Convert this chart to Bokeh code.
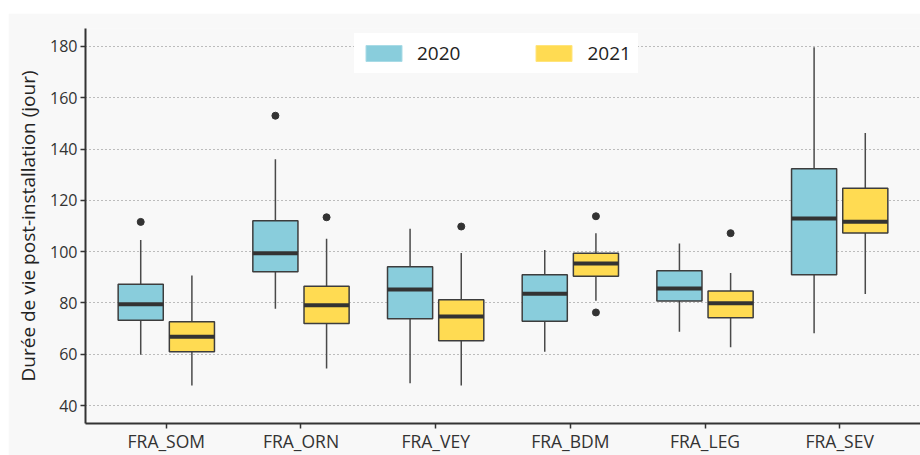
from bokeh.plotting import figure
from bokeh.models import FixedTicker, Legend, LegendItem, ColumnDataSource, Spacer
from bokeh.layouts import column, row
from bokeh.embed import file_html
from bokeh.resources import INLINE

categories = ["FRA_SOM", "FRA_ORN", "FRA_VEY", "FRA_BDM", "FRA_LEG", "FRA_SEV"]

# 2020 series
low_2020 = [59.8, 77.7, 48.7, 61.0, 68.8, 68.2]
q1_2020 = [73.3, 92.2, 73.8, 72.9, 80.8, 91.0]
med_2020 = [79.5, 99.4, 85.2, 83.6, 85.6, 112.9]
q3_2020 = [87.3, 112.0, 94.1, 91.0, 92.6, 132.3]
high_2020 = [104.5, 136.0, 108.9, 100.6, 103.2, 179.7]
out_cat_2020 = ["FRA_SOM", "FRA_ORN"]
out_val_2020 = [111.6, 153.0]

# 2021 series
low_2021 = [47.8, 54.4, 47.8, 80.9, 62.7, 83.5]
q1_2021 = [61.0, 72.0, 65.3, 90.4, 74.2, 107.3]
med_2021 = [66.8, 79.1, 74.7, 95.4, 79.9, 111.7]
q3_2021 = [72.7, 86.5, 81.2, 99.4, 84.7, 124.7]
high_2021 = [90.7, 105.0, 99.5, 107.2, 91.7, 146.3]
out_cat_2021 = ["FRA_ORN", "FRA_VEY", "FRA_BDM", "FRA_BDM", "FRA_LEG"]
out_val_2021 = [113.4, 109.8, 113.8, 76.3, 107.2]

y_ticks = [40, 60, 80, 100, 120, 140, 160, 180]

COL_2020 = "#89CDDC"
COL_2021 = "#FFDB52"
EDGE = "#3d3d3d"
BG = "#f8f8f8"
FONT = "Open Sans"

pos = {c: i + 1 for i, c in enumerate(categories)}
OFF = 0.19
BW = 0.335

p = figure(width=912, height=442, x_range=(0.4, 6.6), y_range=(33, 187),
           output_backend="svg", toolbar_location=None,
           background_fill_color=BG, border_fill_color=BG,
           min_border_left=77, min_border_right=0, min_border_top=15,
           min_border_bottom=30)
p.outline_line_color = None
p.xgrid.grid_line_color = None
p.ygrid.grid_line_color = "#808080"
p.ygrid.grid_line_dash = "1 3"
p.ygrid.grid_line_width = 1

def draw(low, q1, med, q3, high, oc, ov, off, col):
    xs = [pos[c] + off for c in categories]
    src = ColumnDataSource(dict(x=xs, low=low, q1=q1, med=med, q3=q3, high=high,
                                x0=[x - BW / 2 for x in xs], x1=[x + BW / 2 for x in xs]))
    p.segment(x0="x", x1="x", y0="low", y1="high", source=src,
              line_color="#4a4a4a", line_width=1.5)
    p.vbar(x="x", width=BW, bottom="q1", top="q3", source=src,
           fill_color=col, line_color=EDGE, line_width=1.5)
    p.segment(x0="x0", x1="x1", y0="med", y1="med", source=src,
              line_color="#333333", line_width=4)
    p.scatter([pos[c] + off for c in oc], ov, size=7, color="#333333")

draw(low_2020, q1_2020, med_2020, q3_2020, high_2020, out_cat_2020, out_val_2020, -OFF, COL_2020)
draw(low_2021, q1_2021, med_2021, q3_2021, high_2021, out_cat_2021, out_val_2021, OFF, COL_2021)

# legend-only glyphs placed outside the visible range
r20 = p.rect(x=[-100], y=[-100], width=1, height=1, fill_color=COL_2020, line_color="#a9dbe6", line_width=1)
r21 = p.rect(x=[-100], y=[-100], width=1, height=1, fill_color=COL_2021, line_color="#ffe47c", line_width=1)

legend = Legend(items=[LegendItem(label="2020", renderers=[r20]),
                       LegendItem(label="2021", renderers=[r21])],
                orientation="horizontal", location=(269, 350),
                glyph_width=45, glyph_height=20, label_standoff=11, spacing=71,
                padding=7, margin=0, background_fill_color="white",
                background_fill_alpha=1, border_line_alpha=0,
                label_text_font=FONT, label_text_font_size="19px",
                label_text_color="#222222", label_height=22)
p.add_layout(legend, "center")

p.xaxis.ticker = FixedTicker(ticks=[pos[c] for c in categories])
p.xaxis.major_label_overrides = {pos[c]: c for c in categories}
p.xaxis.minor_tick_line_color = None
p.yaxis.ticker = FixedTicker(ticks=y_ticks)
p.yaxis.minor_tick_line_color = None
for ax in (p.xaxis[0], p.yaxis[0]):
    ax.axis_line_color = "#333333"
    ax.axis_line_width = 2
    ax.major_tick_line_color = "#333333"
    ax.major_tick_line_width = 1.5
    ax.major_tick_out = 5
    ax.major_tick_in = 0
    ax.major_label_text_font = FONT
    ax.major_label_text_color = "#333333"
p.xaxis.major_label_text_font_size = "17.5px"
p.yaxis.major_label_text_font_size = "16px"
p.xaxis.major_label_standoff = 0
p.yaxis.major_label_standoff = 3
p.yaxis.axis_label = "Durée de vie post-installation (jour)"
p.yaxis.axis_label_text_font = FONT
p.yaxis.axis_label_text_font_size = "19px"
p.yaxis.axis_label_text_font_style = "normal"
p.yaxis.axis_label_text_color = "#222222"
p.yaxis.axis_label_standoff = 6

layout = column(Spacer(width=920, height=13),
                row(Spacer(width=8, height=442), p))

open("out.html", "w").write(file_html(layout, INLINE))
